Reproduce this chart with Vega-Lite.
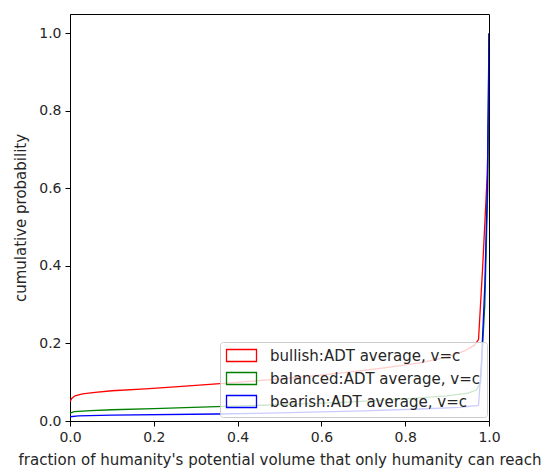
{
  "$schema": "https://vega.github.io/schema/vega-lite/v6.json",
  "width": 419,
  "height": 407,
  "autosize": {"type": "none"},
  "padding": {"left": 70, "top": 14, "right": 58, "bottom": 53},
  "data": {
    "values": [
      {"s": "bullish:ADT average, v=c", "x": 0.0, "p": 0.05},
      {"s": "bullish:ADT average, v=c", "x": 0.004, "p": 0.058},
      {"s": "bullish:ADT average, v=c", "x": 0.012, "p": 0.065},
      {"s": "bullish:ADT average, v=c", "x": 0.03, "p": 0.07},
      {"s": "bullish:ADT average, v=c", "x": 0.06, "p": 0.074},
      {"s": "bullish:ADT average, v=c", "x": 0.1, "p": 0.078},
      {"s": "bullish:ADT average, v=c", "x": 0.18, "p": 0.083},
      {"s": "bullish:ADT average, v=c", "x": 0.25, "p": 0.088},
      {"s": "bullish:ADT average, v=c", "x": 0.35, "p": 0.096},
      {"s": "bullish:ADT average, v=c", "x": 0.45, "p": 0.104},
      {"s": "bullish:ADT average, v=c", "x": 0.55, "p": 0.113},
      {"s": "bullish:ADT average, v=c", "x": 0.65, "p": 0.124},
      {"s": "bullish:ADT average, v=c", "x": 0.75, "p": 0.137},
      {"s": "bullish:ADT average, v=c", "x": 0.835, "p": 0.15},
      {"s": "bullish:ADT average, v=c", "x": 0.9, "p": 0.165},
      {"s": "bullish:ADT average, v=c", "x": 0.94, "p": 0.18},
      {"s": "bullish:ADT average, v=c", "x": 0.965, "p": 0.195},
      {"s": "bullish:ADT average, v=c", "x": 0.975, "p": 0.21},
      {"s": "bullish:ADT average, v=c", "x": 0.985, "p": 0.4},
      {"s": "bullish:ADT average, v=c", "x": 0.996, "p": 0.64},
      {"s": "bullish:ADT average, v=c", "x": 0.999, "p": 0.8},
      {"s": "bullish:ADT average, v=c", "x": 1.0, "p": 1.0},
      {"s": "balanced:ADT average, v=c", "x": 0.0, "p": 0.02},
      {"s": "balanced:ADT average, v=c", "x": 0.01, "p": 0.024},
      {"s": "balanced:ADT average, v=c", "x": 0.05, "p": 0.027},
      {"s": "balanced:ADT average, v=c", "x": 0.1, "p": 0.029},
      {"s": "balanced:ADT average, v=c", "x": 0.2, "p": 0.032},
      {"s": "balanced:ADT average, v=c", "x": 0.35, "p": 0.037},
      {"s": "balanced:ADT average, v=c", "x": 0.5, "p": 0.042},
      {"s": "balanced:ADT average, v=c", "x": 0.65, "p": 0.048},
      {"s": "balanced:ADT average, v=c", "x": 0.8, "p": 0.057},
      {"s": "balanced:ADT average, v=c", "x": 0.9, "p": 0.065},
      {"s": "balanced:ADT average, v=c", "x": 0.95, "p": 0.072},
      {"s": "balanced:ADT average, v=c", "x": 0.97, "p": 0.08},
      {"s": "balanced:ADT average, v=c", "x": 0.98, "p": 0.1},
      {"s": "balanced:ADT average, v=c", "x": 0.99, "p": 0.3},
      {"s": "balanced:ADT average, v=c", "x": 0.997, "p": 0.6},
      {"s": "balanced:ADT average, v=c", "x": 1.0, "p": 1.0},
      {"s": "bearish:ADT average, v=c", "x": 0.0, "p": 0.011},
      {"s": "bearish:ADT average, v=c", "x": 0.02, "p": 0.013},
      {"s": "bearish:ADT average, v=c", "x": 0.1, "p": 0.015},
      {"s": "bearish:ADT average, v=c", "x": 0.35, "p": 0.018},
      {"s": "bearish:ADT average, v=c", "x": 0.5, "p": 0.021},
      {"s": "bearish:ADT average, v=c", "x": 0.7, "p": 0.026},
      {"s": "bearish:ADT average, v=c", "x": 0.835, "p": 0.031},
      {"s": "bearish:ADT average, v=c", "x": 0.93, "p": 0.035},
      {"s": "bearish:ADT average, v=c", "x": 0.975, "p": 0.04},
      {"s": "bearish:ADT average, v=c", "x": 0.982, "p": 0.15},
      {"s": "bearish:ADT average, v=c", "x": 0.99, "p": 0.35},
      {"s": "bearish:ADT average, v=c", "x": 0.996, "p": 0.6},
      {"s": "bearish:ADT average, v=c", "x": 1.0, "p": 1.0}
    ]
  },
  "mark": {"type": "line", "strokeWidth": 1.3, "clip": true},
  "encoding": {
    "x": {
      "field": "x",
      "type": "quantitative",
      "scale": {"domain": [0, 1], "nice": false, "zero": false},
      "axis": {
        "values": [0, 0.2, 0.4, 0.6, 0.8, 1.0],
        "format": ".1f",
        "labelFlush": false,
        "title": "fraction of humanity's potential volume that only humanity can reach"
      }
    },
    "y": {
      "field": "p",
      "type": "quantitative",
      "scale": {"domain": [0, 1.05], "nice": false},
      "axis": {
        "values": [0, 0.2, 0.4, 0.6, 0.8, 1.0],
        "format": ".1f",
        "labelFlush": false,
        "title": "cumulative probability"
      }
    },
    "color": {
      "field": "s",
      "type": "nominal",
      "sort": null,
      "scale": {
        "domain": ["bullish:ADT average, v=c", "balanced:ADT average, v=c", "bearish:ADT average, v=c"],
        "range": ["#ff0000", "#008000", "#0000ff"]
      },
      "legend": {
        "title": null,
        "orient": "none",
        "legendX": 150,
        "legendY": 328,
        "symbolType": "M-2.5,-1H2.5V1H-2.5Z",
        "symbolSize": 144,
        "symbolOffset": 8,
        "symbolStrokeWidth": 1.3,
        "symbolFillColor": "transparent",
        "labelFontSize": 15,
        "labelFont": "DejaVu Sans",
        "labelColor": "#262626",
        "labelLimit": 400,
        "labelOffset": 21,
        "rowPadding": 4,
        "padding": 6,
        "strokeColor": "#cccccc",
        "fillColor": "rgba(255,255,255,0.8)",
        "cornerRadius": 3
      }
    }
  },
  "config": {
    "view": {"stroke": "#000000", "strokeWidth": 1},
    "axis": {
      "grid": false,
      "domainColor": "#000000",
      "tickColor": "#000000",
      "tickSize": 5,
      "labelFont": "DejaVu Sans",
      "labelFontSize": 14,
      "labelColor": "#262626",
      "labelPadding": 4,
      "titleFont": "DejaVu Sans",
      "titleFontSize": 15,
      "titleFontWeight": "normal",
      "titleColor": "#262626"
    },
    "axisX": {"titlePadding": 8},
    "axisY": {"titlePadding": 10}
  }
}
